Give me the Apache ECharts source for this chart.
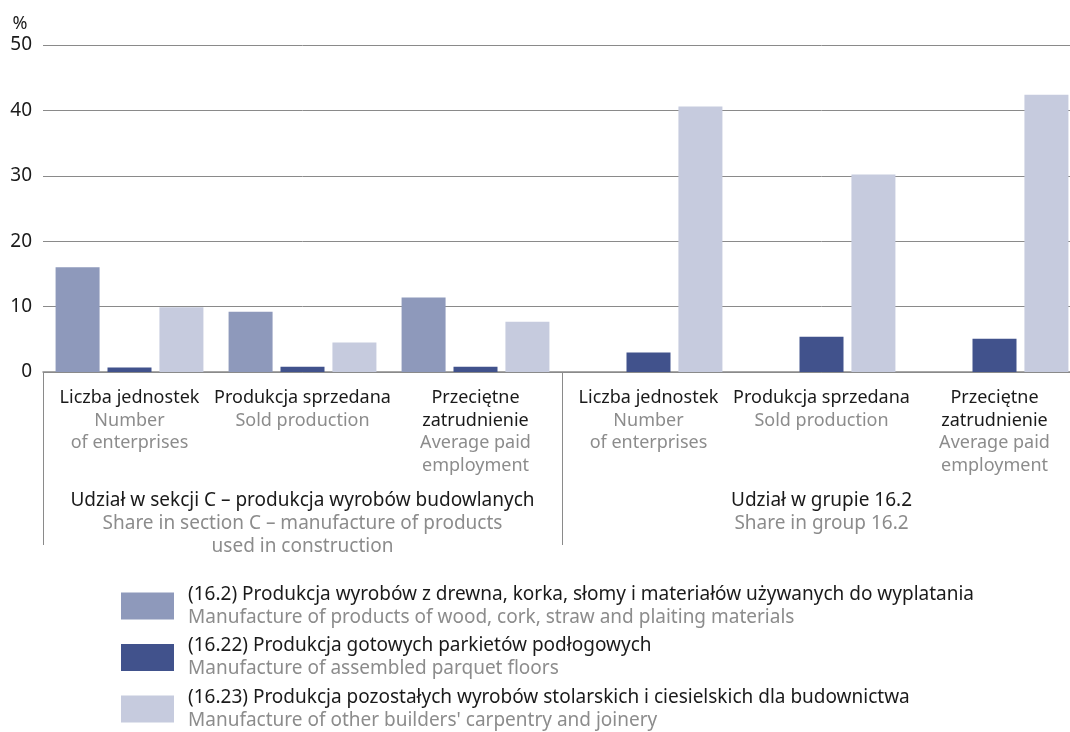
<!DOCTYPE html>
<html>
<head>
<meta charset="utf-8">
<script src="https://cdn.jsdelivr.net/npm/echarts@6/dist/echarts.min.js"></script>
<style>
  html, body { margin: 0; padding: 0; background: #fff; overflow: hidden; }
  #chart { width: 1082px; height: 732px; }
</style>
</head>
<body>
<div id="chart"></div>
<script>
// kategorie (PL / EN)
const catPl = ['Liczba jednostek', 'Produkcja sprzedana', 'Przeciętne\nzatrudnienie',
               'Liczba jednostek', 'Produkcja sprzedana', 'Przeciętne\nzatrudnienie'];
const catEn = ['Number\nof enterprises', 'Sold production', 'Average paid\nemployment',
               'Number\nof enterprises', 'Sold production', 'Average paid\nemployment'];

const groupPl = ['Udział w sekcji C – produkcja wyrobów budowlanych', 'Udział w grupie 16.2'];
const groupEn = ['Share in section C – manufacture of products\nused in construction', 'Share in group 16.2'];

const legendPl = [
  '(16.2) Produkcja wyrobów z drewna, korka, słomy i materiałów używanych do wyplatania',
  '(16.22) Produkcja gotowych parkietów podłogowych',
  '(16.23) Produkcja pozostałych wyrobów stolarskich i ciesielskich dla budownictwa'
];
const legendEn = [
  'Manufacture of products of wood, cork, straw and plaiting materials',
  'Manufacture of assembled parquet floors',
  "Manufacture of other builders' carpentry and joinery"
];

// wartości w %
const s162 = [16.0, 9.2, 11.4, null, null, null];
const s1622 = [0.7, 0.8, 0.8, 3.0, 5.4, 5.1];
const s1623 = [9.9, 4.5, 7.7, 40.6, 30.2, 42.4];

const yTicks = [0, 10, 20, 30, 40, 50];

const FONT = 'Noto Sans';
const BLACK = '#1a1a1a';
const GREY = '#8c8c8c';
const LINE = '#8a8a8a';
const colors = ['#8e99bb', '#41528c', '#c6cbde'];

const rich = (pl, en) =>
  pl.split('\n').map(l => `{pl|${l}}`).join('\n') + '\n' +
  en.split('\n').map(l => `{en|${l}}`).join('\n');

const chart = echarts.init(document.getElementById('chart'));

const option = {
  animation: false,
  textStyle: { fontFamily: FONT },
  grid: { left: 43, top: 45, width: 1038, height: 327, containLabel: false },
  legend: {
    orient: 'vertical',
    left: 121,
    top: 585,
    width: 900,
    height: 200,
    padding: 0,
    itemGap: 9.5,
    itemWidth: 53,
    itemHeight: 27,
    icon: 'rect',
    data: legendPl,
    formatter: name => {
      const i = legendPl.indexOf(name);
      return `{pl|${name}}\n{en|${legendEn[i]}}`;
    },
    textStyle: {
      rich: {
        pl: { fontFamily: FONT, fontSize: 19, color: BLACK, lineHeight: 23, padding: [0, 0, 0, 9] },
        en: { fontFamily: FONT, fontSize: 19, color: GREY, lineHeight: 23, padding: [0, 0, 0, 9] }
      }
    }
  },
  xAxis: [
    {
      type: 'category',
      data: catPl,
      axisLine: { lineStyle: { color: LINE, width: 1.5 } },
      axisTick: { show: false },
      axisLabel: {
        interval: 0,
        margin: 15,
        formatter: (v, i) => rich(catPl[i], catEn[i]),
        rich: {
          pl: { fontFamily: FONT, fontSize: 18, color: BLACK, lineHeight: 22.5 },
          en: { fontFamily: FONT, fontSize: 18, color: GREY, lineHeight: 22.5 }
        }
      }
    },
    {
      type: 'category',
      data: groupPl,
      position: 'bottom',
      axisLine: { show: false },
      axisTick: { show: true, length: 173, lineStyle: { color: LINE, width: 1 } },
      axisLabel: {
        interval: 0,
        margin: 117,
        formatter: (v, i) => rich(groupPl[i], groupEn[i]),
        rich: {
          pl: { fontFamily: FONT, fontSize: 19, color: BLACK, lineHeight: 23 },
          en: { fontFamily: FONT, fontSize: 19, color: GREY, lineHeight: 23 }
        }
      }
    }
  ],
  yAxis: {
    type: 'value',
    min: 0,
    max: 50,
    interval: 10,
    name: '%',
    nameLocation: 'end',
    nameGap: 12,
    nameTextStyle: { fontFamily: FONT, fontSize: 18, color: BLACK, padding: [0, 46, 0, 0] },
    axisLine: { show: false },
    axisTick: { show: false },
    axisLabel: {
      margin: 11,
      fontFamily: FONT,
      fontSize: 19,
      color: BLACK,
      formatter: v => (yTicks.includes(v) ? String(v) : '')
    },
    splitLine: { lineStyle: { color: LINE, width: 1 } }
  },
  series: [
    { name: legendPl[0], type: 'bar', data: s162, barWidth: 44, barGap: '18%', itemStyle: { color: colors[0] } },
    { name: legendPl[1], type: 'bar', data: s1622, barWidth: 44, barGap: '18%', itemStyle: { color: colors[1] } },
    { name: legendPl[2], type: 'bar', data: s1623, barWidth: 44, barGap: '18%', itemStyle: { color: colors[2] } }
  ]
};

chart.setOption(option);
</script>
</body>
</html>
